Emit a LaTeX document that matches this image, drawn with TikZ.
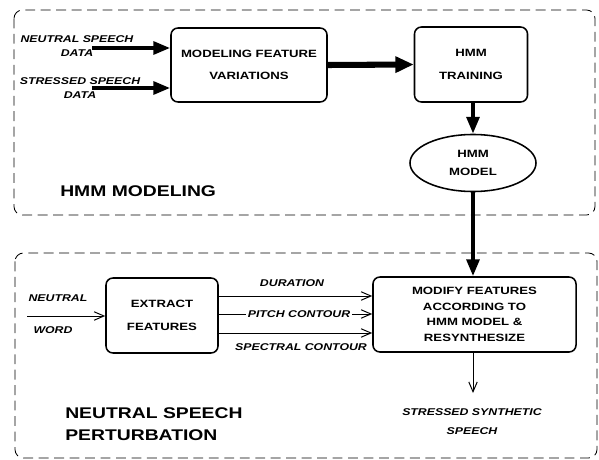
\documentclass[tikz,border=0pt]{standalone}
\usepackage{fontspec}
\setmainfont{Liberation Sans}[FakeStretch=1.25]
\usepackage{tikz}
\usetikzlibrary{arrows.meta, shapes.geometric}

\tikzset{
  block/.style={draw, line width=1.1pt, rounded corners=5pt, align=center,
    font=\bfseries\fontsize{7.5}{16}\selectfont},
  region/.style={draw, line width=0.6pt, dash pattern=on 7pt off 4pt, rounded corners=6pt},
  lbl/.style={font=\bfseries\itshape\fontsize{7}{10}\selectfont, align=center, inner sep=1pt},
  title/.style={font=\bfseries\fontsize{11}{15.5}\selectfont, align=left, anchor=west, inner sep=0pt},
  fatarrow/.style={line width=2.8pt, -{Triangle[length=12pt, width=9pt]}},
  thinarrow/.style={line width=0.7pt, -{Straight Barb[length=7pt, width=6pt]}}
}

\begin{document}
\begin{tikzpicture}[x=0.025cm, y=-0.025cm]
        \useasboundingbox (0,0) rectangle (599,460);

        % Regions
        \draw[region] (14,10) rectangle (595,215);
        \draw[region] (15,253) rectangle (597,458);

        % HMM modeling part
        \node[block, minimum width=3.9cm, minimum height=1.85cm] (mfv) at (249,65) {MODELING FEATURE\\VARIATIONS};
        \node[block, minimum width=2.825cm, minimum height=1.875cm] (train) at (471,64.5) {HMM\\TRAINING};
        \node[draw, ellipse, line width=1.1pt, minimum width=3.15cm, minimum height=1.425cm, align=center,
              font=\bfseries\fontsize{7.5}{13}\selectfont] (model) at (473,163) {HMM\\MODEL};
        \node[title] (hmmtitle) at (60,191) {HMM MODELING};

        % Inputs
        \node[lbl] (nsd) at (77,46) {NEUTRAL SPEECH\\DATA};
        \node[lbl] (ssd) at (80,88) {STRESSED SPEECH\\DATA};
        \coordinate (nsIn) at (92,48);
        \coordinate (ssIn) at (92,88);
        \draw[fatarrow] (nsIn) -- (nsIn -| mfv.west);
        \draw[fatarrow] (ssIn) -- (ssIn -| mfv.west);

        % Training and model
        \draw[line width=4.3pt, -{Triangle[length=13pt, width=11pt]}] (mfv.east) -- (train.west);
        \draw[fatarrow] (train.south -| model.north) -- (model.north);

        % Perturbation part
        \node[block, minimum width=2.8cm, minimum height=1.875cm] (extract) at (162,315.5) {EXTRACT\\FEATURES};
        \node[block, minimum width=5.075cm, minimum height=1.875cm,
              font=\bfseries\fontsize{7.5}{11}\selectfont] (modify) at (474.5,314.5)
              {MODIFY FEATURES\\ACCORDING TO\\HMM MODEL \&\\RESYNTHESIZE};
        \node[title] (pertitle) at (65,424) {NEUTRAL SPEECH\\PERTURBATION};

        \draw[fatarrow] (model.south) -- (model.south |- modify.north);

        % Neutral word input
        \node[lbl] (neutral) at (58,298) {NEUTRAL};
        \node[lbl] (word) at (53,330) {WORD};
        \coordinate (wIn) at (27,316);
        \draw[thinarrow] (wIn) -- (wIn -| extract.west);

        % Feature streams
        \coordinate (dur) at (218,296);
        \coordinate (pit) at (218,314);
        \coordinate (spe) at (218,333);
        \draw[thinarrow] (dur) -- (dur -| modify.west);
        \draw[thinarrow] (pit) -- (pit -| modify.west);
        \draw[thinarrow] (spe) -- (spe -| modify.west);
        \node[lbl] (durlbl) at (292,283) {DURATION};
        \node[lbl, fill=white] (pitlbl) at (299,314) {PITCH CONTOUR};
        \node[lbl] (spelbl) at (301,347) {SPECTRAL CONTOUR};

        % Output
        \coordinate (out) at (473,393);
        \draw[thinarrow] (modify.south -| out) -- (out);
        \node[lbl, font=\bfseries\itshape\fontsize{7}{13.5}\selectfont] (stressed) at (472,422) {STRESSED SYNTHETIC\\SPEECH};
    \end{tikzpicture}
\end{document}
